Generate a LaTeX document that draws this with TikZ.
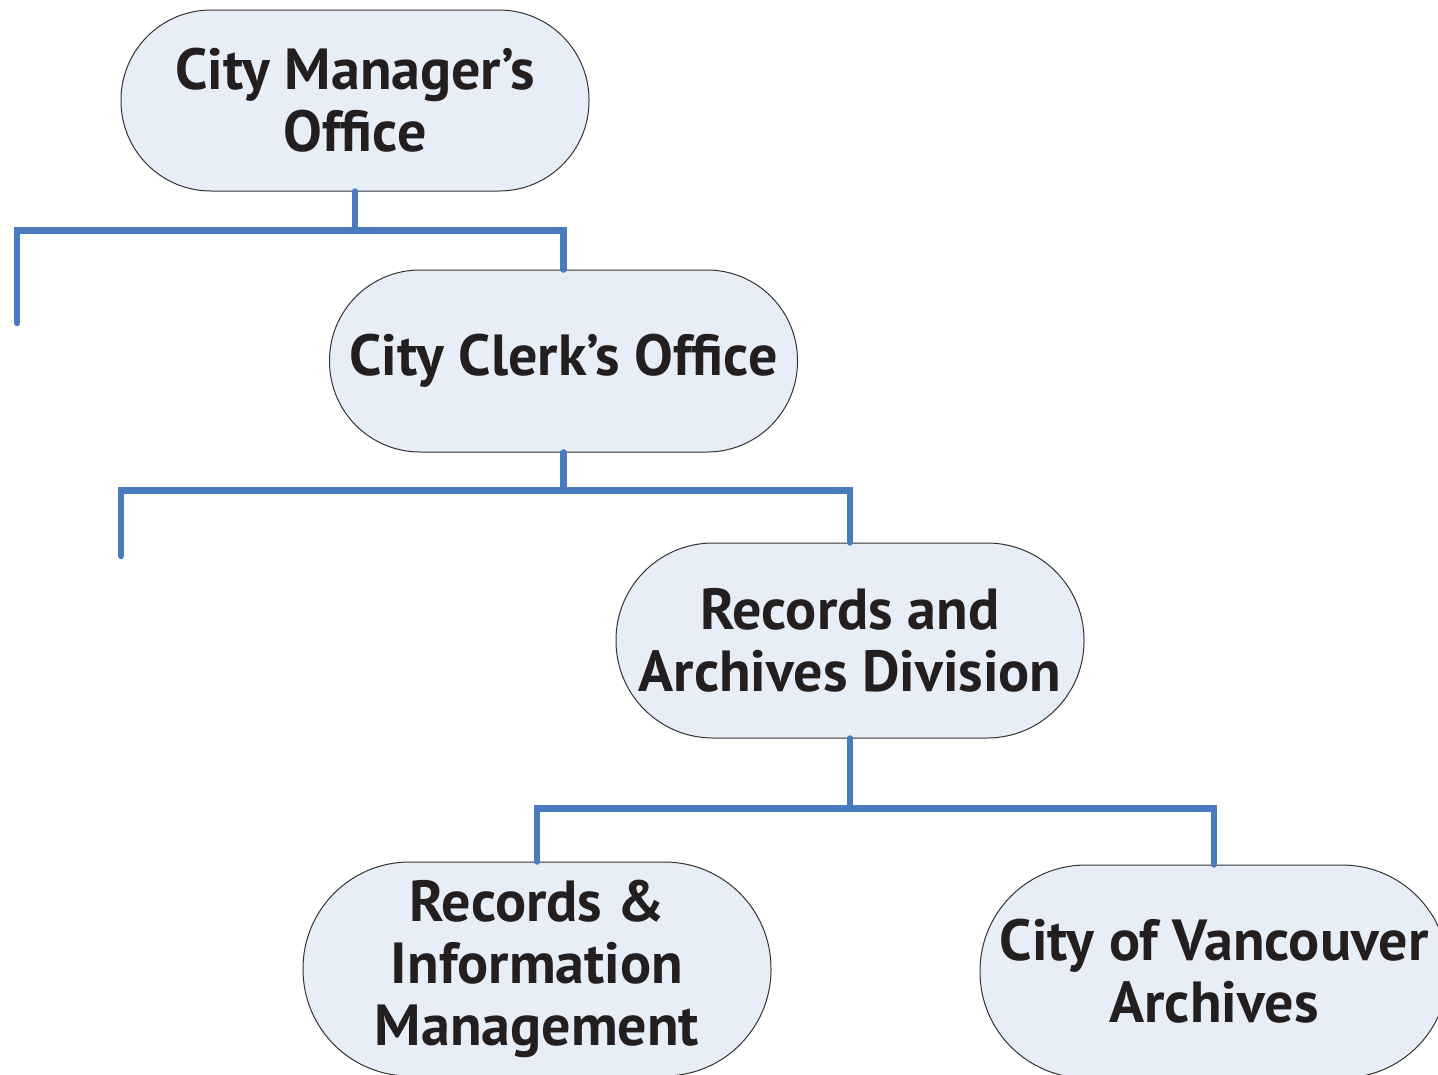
\documentclass[tikz,border=0pt]{standalone}
\usepackage{fontspec}
\setmainfont{PT Sans}
\definecolor{nodefill}{RGB}{232,238,248}
\definecolor{linkblue}{RGB}{74,123,190}
\definecolor{txt}{RGB}{35,31,32}
\tikzset{
  orgbox/.style={draw=black!80, line width=1pt, fill=nodefill,
    minimum width=468pt, align=center, inner sep=0pt, text=txt,
    font=\fontsize{58}{62}\selectfont\bfseries},
  link/.style={draw=linkblue, line width=6.5pt, line cap=round, line join=miter}
}
\begin{document}
\begin{tikzpicture}[x=1pt,y=-1pt]
\useasboundingbox (0,0) rectangle (1438,1074);
\clip (0,0) rectangle (1438,1074);
\node[orgbox, minimum height=181pt, rounded corners=90pt] (cmo) at (355,100.5) {City Manager’s\\Office};
\node[orgbox, minimum height=182pt, rounded corners=90.5pt] (cco) at (563.5,361) {City Clerk’s Office};
\node[orgbox, minimum height=195pt, rounded corners=97pt] (rad) at (850,640.5) {Records and\\Archives Division};
\node[orgbox, minimum height=214pt, rounded corners=106.5pt] (rim) at (537,969) {Records \&\\Information\\Management};
\node[orgbox, minimum height=213pt, rounded corners=106pt] (cva) at (1214,971.5) {City of Vancouver\\Archives};
\coordinate (e1) at (17,323);
\coordinate (e2) at (121,556);
\draw[link] (cmo.south) -- ++(0,39) -| (e1);
\draw[link] (cmo.south) ++(0,39) -| (cco.north);
\draw[link] (cco.south) -- ++(0,38) -| (e2);
\draw[link] (cco.south) ++(0,38) -| (rad.north);
\draw[link] (rad.south) -- ++(0,70) -| (rim.north);
\draw[link] (rad.south) ++(0,70) -| (cva.north);
\end{tikzpicture}
\end{document}
